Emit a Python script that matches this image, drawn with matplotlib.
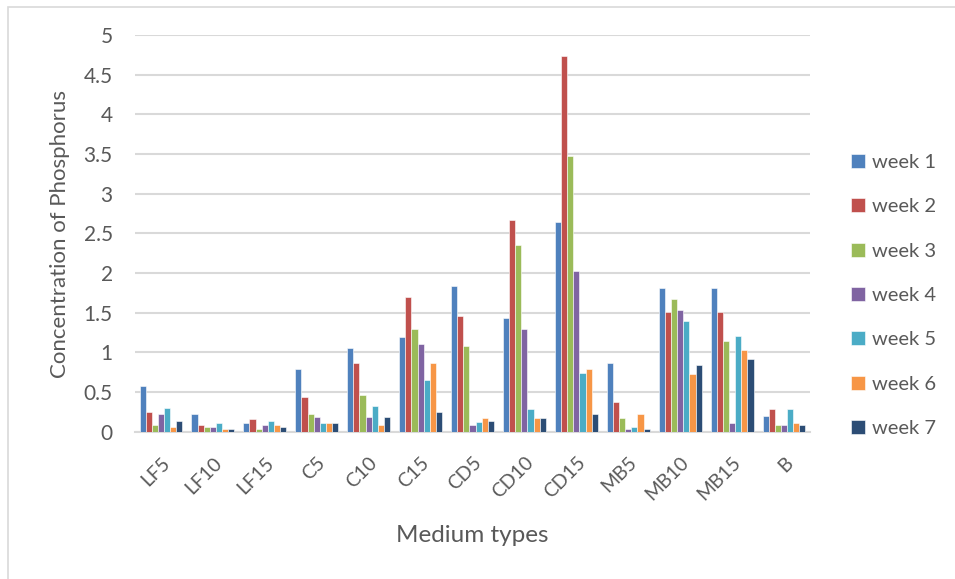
import numpy as np
import matplotlib.pyplot as plt
from matplotlib.patches import Rectangle

plt.rcParams['font.family'] = ['Lato', 'DejaVu Sans']

media = ['LF5', 'LF10', 'LF15', 'C5', 'C10', 'C15', 'CD5', 'CD10', 'CD15',
         'MB5', 'MB10', 'MB15', 'B']
weeks = ['week 1', 'week 2', 'week 3', 'week 4', 'week 5', 'week 6', 'week 7']

week1 = [0.57, 0.22, 0.11, 0.79, 1.05, 1.19, 1.84, 1.43, 2.64, 0.86, 1.81, 1.81, 0.20]
week2 = [0.25, 0.09, 0.16, 0.44, 0.86, 1.70, 1.46, 2.67, 4.74, 0.38, 1.51, 1.51, 0.28]
week3 = [0.08, 0.06, 0.035, 0.22, 0.46, 1.29, 1.08, 2.35, 3.47, 0.17, 1.67, 1.14, 0.085]
week4 = [0.22, 0.06, 0.09, 0.19, 0.19, 1.11, 0.085, 1.30, 2.02, 0.03, 1.54, 0.11, 0.085]
week5 = [0.30, 0.11, 0.14, 0.11, 0.33, 0.65, 0.12, 0.28, 0.735, 0.06, 1.40, 1.21, 0.28]
week6 = [0.06, 0.035, 0.09, 0.11, 0.09, 0.865, 0.17, 0.17, 0.79, 0.22, 0.73, 1.03, 0.11]
week7 = [0.14, 0.035, 0.06, 0.11, 0.19, 0.245, 0.14, 0.17, 0.22, 0.03, 0.84, 0.92, 0.085]
series = [week1, week2, week3, week4, week5, week6, week7]

colors = ['#4F81BD', '#C0504D', '#9BBB59', '#8064A2', '#4BACC6', '#F79646', '#2C4D75']
text_gray = '#595959'
grid_gray = '#D9D9D9'

fig = plt.figure(figsize=(9.55, 5.79), dpi=100)
ax = fig.add_axes([135 / 955, 1 - 431.7 / 579, 675 / 955, (431.7 - 35) / 579])

x = np.arange(len(media))
bw = 0.118
for i, vals in enumerate(series):
    ax.bar(x + (i - 3) * bw, vals, width=bw, color=colors[i], label=weeks[i],
           edgecolor='white', linewidth=0.4, zorder=3)

ax.set_xlim(-0.5, len(media) - 0.5)
ax.set_ylim(0, 5)
ax.set_yticks(np.arange(0, 5.01, 0.5))
ax.set_yticklabels(['0', '0.5', '1', '1.5', '2', '2.5', '3', '3.5', '4', '4.5', '5'])
ax.yaxis.grid(True, color=grid_gray, linewidth=1.5, zorder=0)
ax.set_axisbelow(True)
for s in ['top', 'right', 'left']:
    ax.spines[s].set_visible(False)
ax.spines['bottom'].set_color(grid_gray)
ax.spines['bottom'].set_linewidth(1.5)
ax.tick_params(axis='y', length=0, pad=16, labelsize=15, labelcolor=text_gray)
ax.tick_params(axis='x', length=0, pad=16, labelsize=14, labelcolor=text_gray)
ax.set_xticks(x)
ax.set_xticklabels(media, rotation=45, ha='right', va='top', rotation_mode='anchor')

fig.text(60 / 955, 1 - 234 / 579, 'Concentration of Phosphorus', rotation=90,
         ha='center', va='center', fontsize=16, color=text_gray)
fig.text(472 / 955, 1 - 536 / 579, 'Medium types', ha='center', va='center',
         fontsize=17.5, color=text_gray)

fig.legend(loc='center left', bbox_to_anchor=(851 / 955, 1 - 295.5 / 579), frameon=False,
           borderpad=0, borderaxespad=0, fontsize=14.5, labelcolor=text_gray,
           handlelength=0.7, handleheight=0.7, handletextpad=0.35, labelspacing=1.35)

# light frame around the chart area
fig.patches.append(Rectangle((8 / 955, -0.05), 1.1, 1 - 7 / 579 + 0.05,
                             transform=fig.transFigure, fill=False,
                             edgecolor=grid_gray, linewidth=1.2))

fig.savefig('out.png', dpi=100)
